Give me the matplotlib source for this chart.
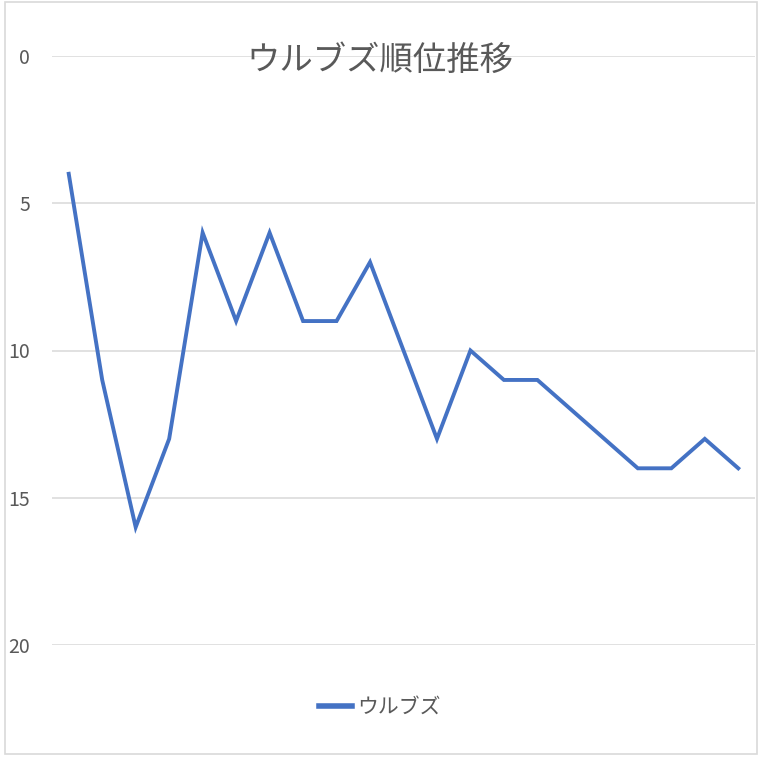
import numpy as np
import matplotlib
matplotlib.use("Agg")
import matplotlib.pyplot as plt
from matplotlib.patches import Rectangle

plt.rcParams['font.family'] = ['Noto Sans CJK JP', 'DejaVu Sans']

# data (rank per game week)
title = 'ウルブズ順位推移'
series_name = 'ウルブズ'
ranks = [4, 11, 16, 13, 6, 9, 6, 9, 9, 7, 10, 13, 10, 11, 11, 12, 13, 14, 14, 13, 14]
y_ticks = [0, 5, 10, 15, 20]

W, H = 760, 760
fig = plt.figure(figsize=(W / 100, H / 100), dpi=100)

# plot area in pixel coords of the reference
left, right, top, bottom = 52, 755, 56, 645
ax = fig.add_axes([left / W, 1 - bottom / H, (right - left) / W, (bottom - top) / H])

x = np.arange(len(ranks))
ax.plot(x, ranks, color='#4472C4', lw=2.8, solid_joinstyle='miter', label=series_name)

ax.set_xlim(-0.5, len(ranks) - 0.5)
ax.set_ylim(20, 0)
ax.set_yticks(y_ticks)
ax.set_xticks([])
ax.grid(axis='y', color='#D9D9D9', lw=1.1)
ax.set_axisbelow(True)
for s in ax.spines.values():
    s.set_visible(False)
ax.tick_params(axis='y', length=0, pad=16, labelsize=14, labelcolor='#595959')

fig.text(0.5, 1 - 60 / H, title, ha='center', va='center', fontsize=24, color='#595959')

leg = fig.legend(loc='center', bbox_to_anchor=(0.5, 1 - 707 / H), frameon=False,
                 fontsize=15, handlelength=1.6, handletextpad=0.25)
for t in leg.get_texts():
    t.set_color('#595959')
for ln in leg.get_lines():
    ln.set_linewidth(4)

# chart border like the spreadsheet frame
fig.patches.append(Rectangle((5 / W, 6 / H), 752 / W, 752 / H, transform=fig.transFigure,
                             fill=False, edgecolor='#D9D9D9', lw=1.2))

fig.savefig('out.png', dpi=100, facecolor='white')
